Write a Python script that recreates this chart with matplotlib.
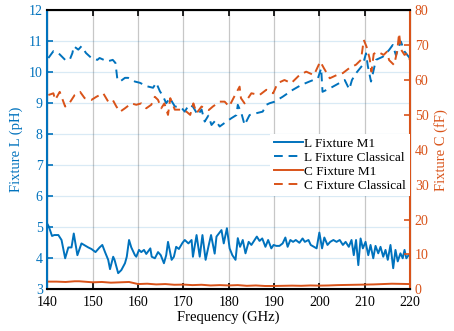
import numpy as np
import matplotlib.pyplot as plt

# L Fixture M1 (pH)
f_lm1 = [140.0, 140.3, 141.0, 141.5, 142.4, 143.1, 143.9, 144.6, 145.3, 145.8, 146.6, 147.5, 148.2, 149.0, 149.7,
         150.6, 151.5, 152.1, 152.7, 153.4, 153.8, 154.5, 154.8, 155.6, 156.3, 157.1, 157.5, 158.0, 158.5, 159.3,
         159.6, 160.2, 160.7, 161.3, 161.8, 162.7, 163.0, 163.7, 164.4, 165.0, 165.7, 166.2, 166.6, 167.4, 167.9,
         168.4, 169.0, 169.8, 170.3, 171.1, 171.8, 172.1, 172.9, 173.6, 174.2, 174.9, 175.6, 176.1, 176.9, 177.3,
         178.4, 178.9, 179.6, 180.2, 180.8, 181.5, 182.0, 182.5, 183.1, 183.7, 184.4, 185.0, 185.7, 186.2, 186.8,
         187.4, 188.1, 188.7, 189.4, 189.9, 190.5, 191.2, 191.9, 192.5, 193.0, 193.6, 194.2, 194.8, 195.6, 196.3,
         196.8, 197.6, 198.1, 198.8, 199.4, 200.0, 200.6, 201.1, 201.8, 202.4, 203.1, 203.8, 204.5, 205.2, 205.8,
         206.5, 207.1, 207.6, 208.1, 208.6, 209.1, 209.6, 210.2, 210.8, 211.3, 211.9, 212.4, 213.0, 213.5, 214.1,
         214.6, 215.1, 215.7, 216.3, 216.8, 217.3, 217.9, 218.4, 218.8, 219.2, 219.7, 220.0]
l_m1 = [5.1, 5.02, 4.72, 4.75, 4.75, 4.59, 4.0, 4.35, 4.35, 4.8, 4.1, 4.48, 4.42, 4.35, 4.3,
        4.2, 4.35, 4.43, 4.2, 3.95, 3.65, 4.05, 3.95, 3.52, 3.62, 3.84, 4.05, 4.59, 4.35, 4.1,
        4.05, 4.27, 4.2, 4.27, 4.14, 4.32, 4.05, 4.0, 4.2, 4.1, 3.84, 4.1, 4.53, 3.95, 4.05,
        4.37, 4.3, 4.5, 4.59, 4.48, 4.59, 4.05, 4.75, 4.05, 4.75, 3.95, 4.43, 4.75, 4.15, 4.7,
        4.91, 4.48, 4.97, 4.32, 4.1, 3.95, 4.65, 4.37, 4.59, 4.16, 4.53, 4.43, 4.59, 4.7, 4.56,
        4.64, 4.37, 4.59, 4.32, 4.43, 4.4, 4.4, 4.48, 4.67, 4.37, 4.59, 4.53, 4.59, 4.5, 4.64,
        4.53, 4.59, 4.43, 4.37, 4.32, 4.83, 4.32, 4.67, 4.43, 4.53, 4.59, 4.53, 4.59, 4.43, 4.53,
        4.37, 4.59, 4.1, 4.59, 3.78, 4.64, 4.32, 4.53, 4.1, 4.43, 4.0, 4.4, 4.16, 4.37, 4.05,
        4.27, 3.95, 4.43, 3.68, 4.27, 3.9, 4.16, 4.0, 4.27, 4.0, 4.1, 4.1]

# L Fixture Classical (pH)
f_lcl = [140.2, 141.3, 142.4, 143.9, 144.9, 145.5, 145.8, 146.8, 147.5, 148.5, 149.7, 151.0, 151.5, 153.2, 154.4,
         155.0, 155.4, 156.0, 157.1, 157.8, 159.3, 160.4, 161.9, 163.3, 164.0, 164.8, 165.5, 166.2, 167.0, 168.1,
         169.6, 170.3, 171.2, 172.1, 173.2, 174.0, 174.7, 175.5, 176.2, 177.1, 178.0, 179.5, 180.6, 181.7, 182.0,
         182.8, 183.5, 184.6, 186.1, 187.5, 188.3, 189.0, 190.1, 191.9, 194.1, 196.0, 197.8, 199.7, 200.4, 200.7,
         202.3, 204.4, 205.6, 206.6, 207.2, 208.1, 209.6, 210.3, 210.7, 211.4, 212.5, 214.0, 215.4, 216.2, 216.9,
         218.0, 218.8, 220.0]
l_cl = [10.46, 10.68, 10.62, 10.4, 10.4, 10.62, 10.84, 10.73, 10.84, 10.62, 10.46, 10.4, 10.46, 10.35, 10.4,
        10.3, 9.8, 9.7, 9.82, 9.82, 9.7, 9.66, 9.55, 9.5, 9.66, 9.39, 9.23, 9.0, 9.17, 8.9,
        8.85, 8.73, 8.95, 8.89, 8.62, 8.8, 8.41, 8.6, 8.3, 8.45, 8.25, 8.41, 8.52, 8.62, 8.95,
        8.68, 8.3, 8.62, 8.68, 8.73, 8.95, 9.0, 9.05, 9.21, 9.43, 9.59, 9.7, 9.81, 10.13, 9.37,
        9.48, 9.65, 9.75, 9.45, 9.75, 9.97, 10.24, 10.61, 10.2, 9.7, 10.4, 10.5, 10.72, 10.88, 10.55,
        10.99, 10.67, 10.45]

# C Fixture M1 (fF)
f_cm1 = [140, 142, 144, 146, 147, 148, 150, 152, 154, 156, 158, 160, 162, 164, 166, 168, 170, 172, 174, 176,
         178, 180, 182, 184, 186, 188, 190, 192, 194, 196, 198, 200, 202, 204, 206, 208, 210, 212, 214, 216, 218, 220]
c_m1 = [2.2, 2.2, 2.1, 2.3, 2.3, 2.2, 2.0, 2.1, 1.9, 2.0, 2.1, 1.5, 1.6, 1.4, 1.5, 1.3, 1.35, 1.2, 1.3, 1.1,
        1.2, 1.1, 1.2, 1.0, 1.1, 0.95, 0.95, 1.0, 1.05, 1.0, 1.1, 1.05, 1.1, 1.2, 1.25, 1.3, 1.35, 1.4, 1.5, 1.6, 1.55, 1.5]

# C Fixture Classical (fF)
f_ccl = [140.2, 141.3, 141.7, 142.7, 143.9, 144.6, 146.0, 147.2, 148.2, 149.7, 150.8, 152.3, 153.4, 154.4, 155.2,
         156.0, 157.1, 158.5, 159.6, 160.7, 161.8, 162.9, 163.7, 164.4, 165.1, 165.8, 166.6, 167.1, 168.1, 169.6,
         170.7, 171.5, 172.2, 172.9, 174.0, 175.6, 176.5, 178.0, 179.1, 180.1, 181.2, 182.4, 182.7, 183.5, 185.0,
         186.8, 188.3, 189.8, 190.8, 192.3, 193.8, 195.6, 197.1, 198.8, 200.2, 201.0, 202.3, 203.8, 205.2, 206.6,
         208.1, 209.2, 209.8, 210.4, 211.1, 211.5, 212.0, 212.9, 214.2, 214.9, 215.4, 216.5, 217.2, 217.6, 218.0,
         218.8, 219.4, 220.0]
c_cl = [55.7, 56.2, 54.3, 56.6, 52.4, 52.9, 55.7, 56.6, 54.8, 54.3, 55.2, 56.2, 53.8, 54.3, 52.4,
        50.9, 51.9, 53.3, 52.9, 53.3, 51.9, 52.9, 55.2, 54.3, 51.9, 53.3, 50.0, 54.8, 51.5, 51.5,
        50.9, 50.0, 53.3, 50.5, 52.4, 51.4, 52.4, 53.8, 53.8, 52.4, 55.2, 58.1, 54.8, 53.3, 56.2,
        55.7, 57.2, 56.2, 59.1, 60.0, 59.1, 61.4, 62.4, 61.4, 65.3, 63.4, 60.5, 61.4, 62.0, 63.4,
        64.4, 65.8, 71.5, 69.6, 66.2, 62.4, 67.5, 68.1, 67.2, 68.1, 65.7, 64.3, 68.4, 73.4, 68.8,
        67.2, 67.7, 65.7]

blue = '#0072BD'
orange = '#D95319'
plt.rcParams['font.family'] = ['Liberation Serif', 'DejaVu Serif']
plt.rcParams['font.size'] = 10

fig = plt.figure(figsize=(4.54, 3.31), dpi=100)
ax = fig.add_axes([0.1046, 0.126, 0.7984, 0.843])
ax2 = ax.twinx()

dash = (0, (4.5, 3))
l1, = ax.plot(f_lm1, l_m1, color=blue, lw=1.4, label='L Fixture M1')
l2, = ax.plot(f_lcl, l_cl, color=blue, lw=1.4, ls=dash, label='L Fixture Classical')
l3, = ax2.plot(f_cm1, c_m1, color=orange, lw=1.4, label='C Fixture M1')
l4, = ax2.plot(f_ccl, c_cl, color=orange, lw=1.4, ls=dash, label='C Fixture Classical')

ax.set_xlim(140, 220)
ax.set_ylim(3, 12)
ax2.set_ylim(0, 80)
ax.set_xticks(np.arange(140, 221, 10))
ax.set_yticks(np.arange(3, 13, 1))
ax2.set_yticks(np.arange(0, 81, 10))

# grid: grey vertical, light blue horizontal (left axis)
ax.xaxis.grid(True, color='#b0b0b0', lw=0.9, alpha=0.7)
ax.yaxis.grid(True, color=blue, lw=0.9, alpha=0.15)
ax.set_axisbelow(True)

ax.tick_params(axis='x', direction='in', top=True, length=4, width=1.2, labelsize=10, pad=5)
ax.tick_params(axis='y', direction='in', colors=blue, length=4, width=1.2, labelsize=10)
ax2.tick_params(axis='y', direction='in', colors=orange, length=4, width=1.2, labelsize=10)

for sp in ['top', 'bottom']:
    ax2.spines[sp].set_linewidth(1.5)
    ax2.spines[sp].set_color('black')
ax2.spines['left'].set_color(blue)
ax2.spines['left'].set_linewidth(1.5)
ax2.spines['right'].set_color(orange)
ax2.spines['right'].set_linewidth(1.5)

ax.set_xlabel('Frequency (GHz)', fontsize=10.5, labelpad=1)
ax.set_ylabel('Fixture L (pH)', color=blue, fontsize=10.5, labelpad=4)
ax2.set_ylabel('Fixture C (fF)', color=orange, fontsize=10.5, labelpad=4)

leg = ax2.legend(handles=[l1, l2, l3, l4], loc='lower right', bbox_to_anchor=(1.0, 0.335),
                 fontsize=9.5, frameon=True, fancybox=False, framealpha=1, edgecolor='none',
                 handlelength=2.2, handletextpad=0.1, labelspacing=0.13, borderpad=0.3,
                 borderaxespad=0)

fig.savefig('out.png', dpi=100)
